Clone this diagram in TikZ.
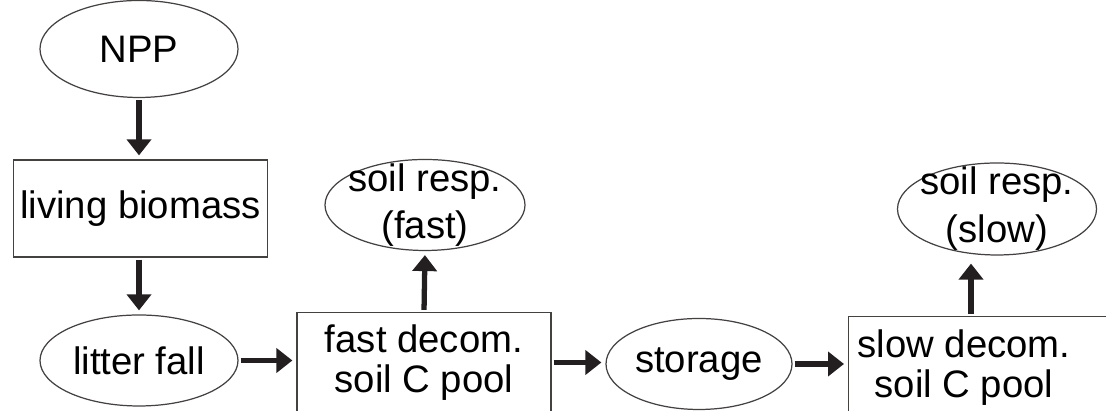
\documentclass[tikz,border=0pt]{standalone}
\usepackage{fontspec}
\setmainfont{Liberation Sans}
\usetikzlibrary{shapes.geometric}
\usetikzlibrary{arrows.meta}
\definecolor{ink}{HTML}{231F20}

\begin{document}
\begin{tikzpicture}
  [pool/.style={draw=ink!85, line width=0.35pt, rectangle, inner sep=0pt,
      minimum width=2.54cm, minimum height=0.97cm, align=center,
      font=\fontsize{10.9}{11.4}\selectfont},
   poollabel/.style={align=center, inner sep=0pt, font=\fontsize{10.9}{11.4}\selectfont},
   blob/.style={draw=ink!85, line width=0.35pt, ellipse, inner sep=0pt,
      minimum width=1.98cm, minimum height=0.91cm,
      font=\fontsize{10.9}{11.4}\selectfont},
   resp/.style={blob, label={[align=center, inner sep=0pt,
      font=\fontsize{10.9}{13.6}\selectfont]center:#1}},
   flux/.style={draw=ink, line width=1.5pt, -{Triangle[length=0.16cm, width=0.24cm]},
      shorten <=0.02cm, shorten >=0.04cm},
  ]
  \useasboundingbox (0,0) rectangle (11.06,4.11);
  \clip (0,0) rectangle (11.06,4.11);
  \node[blob, minimum height=0.97cm] (npp) at (1.39,3.62) {NPP};
  \node[pool] (living) at (1.405,2.025) {living biomass};
  \node[blob] (litter) at (1.39,0.505) {litter fall};
  \node[pool, minimum height=1.0cm] (fast) at (4.24,0.485) {fast decom.\\soil C pool};
  \node[resp={soil resp.\\(fast)}, minimum width=2cm] (respfast) at (4.25,2.06) {};
  \node[blob, minimum width=1.86cm] (storage) at (6.99,0.47) {storage};
  \node[pool, minimum width=2.8cm, minimum height=1.03cm, anchor=north west] (slow) at (8.48,0.95) {};
  \node[poollabel] (slowtxt) at (9.64,0.435) {slow decom.\\soil C pool};
  \node[resp={soil resp.\\(slow)}, minimum width=1.99cm, minimum height=0.92cm] (respslow) at (9.97,2.02) {};
  \draw[flux] (npp.south) -- (npp.south |- living.north);
  \draw[flux] (living.south -| litter.north) -- (litter.north);
  \draw[flux] (litter.east) -- (litter.east -| fast.west);
  \draw[flux] (fast.north) -- (respfast.south);
  \draw[flux] (fast.east) -- (fast.east -| storage.west);
  \draw[flux] (storage.east) -- (storage.east -| slow.west);
  \draw[flux, shorten >=0.08cm] ([xshift=1.23cm]slow.north west) -- ([xshift=1.23cm]slow.north west |- respslow.south);
\end{tikzpicture}
\end{document}
